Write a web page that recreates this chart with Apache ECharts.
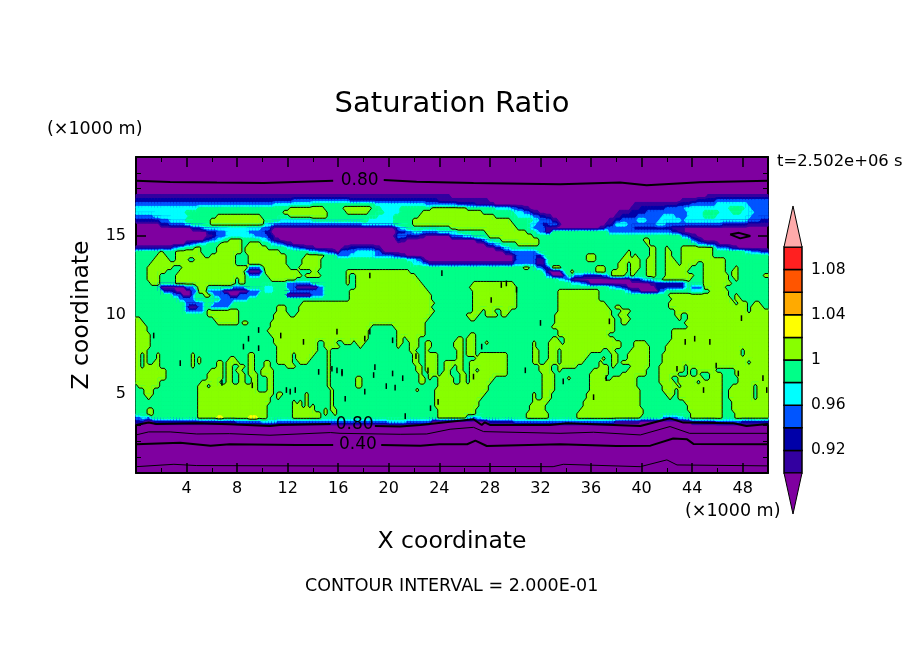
<!DOCTYPE html>
<html>
<head>
<meta charset="utf-8">
<style>html,body{margin:0;background:#fff}#main{width:904px;height:654px}</style>
<script src="https://cdn.jsdelivr.net/npm/echarts@6/dist/echarts.min.js"></script>
</head>
<body>
<div id="main"></div>
<script>
var FONT = '"DejaVu Sans"';

// colour classes, 0 is below 0.90, then one per 0.02 step, last is above 1.10
var levelColors = ['#7f00a0', '#3300a0', '#0000a8', '#0055ff', '#00ffff', '#00ff88', '#88ff00', '#ffff00', '#ffaa00', '#ff5500', '#ff2020', '#ffaaaa'];
var levelEdges = [0.90, 0.92, 0.94, 0.96, 0.98, 1.00, 1.02, 1.04, 1.06, 1.08, 1.10];
var colorbarTicks = [0.92, 0.96, 1, 1.04, 1.08];
var xStep = 0.25;
var xMax = 50;

// z, then "level-untilX" runs along that height
var satRows = [
[18, "0-50"],
[17.75, "0-50"],
[17.5, "1-25 0-45.2 1-50"],
[17.25, "2-12.5 3-17 2-24 1-28 0-43.2 1-44.5 2-46 3-50"],
[17, "3-11 4-14 5-19 4-23 3-25.5 2-27 1-28.5 0-39.3 1-42.8 2-44 3-46 4-48.5 3-50"],
[16.75, "4-5 5-12.2 6-15 5-16.4 6-18.6 5-19.5 4-21 5-23.3 6-26.2 5-28.5 4-29.6 3-30.1 2-30.7 1-31.2 0-39.1 1-40 2-42 3-43.5 4-47 5-48.2 4-48.7 3-50"],
[16.5, "4-4 5-11.7 6-15.1 5-16.7 6-18.4 5-19.6 4-21 5-22.6 6-27.5 5-29.9 4-30.7 3-31.1 2-31.5 1-31.9 0-38.2 1-39.1 2-40.4 3-43.7 4-44.8 5-46.2 4-47.2 5-48 4-49 3-50"],
[16.25, "3-1.5 4-4.2 5-6.5 6-9.95 5-12.2 6-15.1 5-19.2 4-20.5 5-22.5 6-28.5 5-30.2 4-31.5 3-32 2-32.5 1-33 0-37.8 1-38.5 2-39.6 3-41.7 4-42.7 3-43.6 4-44.9 5-46 4-48.7 3-50"],
[16, "2-1.9 3-2.7 4-3.9 5-6 6-10.1 5-11.5 4-14 5-18.5 4-20.5 5-22 6-29.6 5-31.3 4-32 3-33 1-33.5 0-37.4 1-37.9 2-38.4 3-39.7 4-40.3 3-41.3 4-43.2 3-43.5 4-48.3 3-49.4 2-50"],
[15.75, "0-1.8 2-2.7 3-3.8 4-4.5 5-5.9 6-10.1 4-10.8 3-18 4-20.3 5-21.8 6-30 5-31.2 4-31.7 3-32.2 2-32.7 3-33.3 1-33.6 0-37.2 1-37.6 2-38 4-39 3-41.2 4-42 3-46.5 2-48.5 1-50"],
[15.5, "0-4.5 2-5.1 3-5.5 4-10 3-10.6 1-11 0-20.3 1-20.6 3-21 4-21.5 5-24.8 6-30.25 5-31.2 4-31.5 3-32.5 1-33 0-36.7 1-37.1 3-39.3 2-42.5 1-43.3 0-50"],
[15.25, "0-5.6 2-6.4 3-7.2 4-9 3-10.1 2-10.7 0-20.75 2-21.5 3-22 4-22.6 3-24 4-25.4 5-27.75 6-31 5-31.7 4-32 3-32.4 1-32.8 5-37.3 3-42.3 2-43 1-43.4 0-50"],
[15, "0-5.7 1-6.1 2-6.5 3-7.2 4-9.5 3-10.5 2-11 0-20.3 1-20.6 3-21.4 2-22.5 1-23 0-24.85 2-25 3-25.9 4-26.6 5-27.9 6-31.3 5-43.2 3-43.6 2-44 1-44.4 0-50"],
[14.75, "0-5.4 2-5.9 3-6.5 4-7 5-7.3 6-8.4 5-9.8 4-10.3 3-10.6 2-11 1-11.5 0-20.6 2-21 1-21.5 0-26.8 2-27.3 3-27.7 4-28 5-28.8 6-31.8 5-40.2 6-40.7 5-43.8 3-44.2 2-44.6 1-45 0-50"],
[14.5, "0-4 2-4.5 3-5 4-5.6 5-6.7 6-8.5 5-8.8 6-9.9 5-10.7 4-11.2 3-11.6 2-12 1-12.4 0-27.6 2-28 3-28.5 4-28.9 5-30.1 6-31.8 5-40.3 6-40.6 5-44.5 3-45.2 2-45.8 1-46.2 0-50"],
[14.25, "1-3 3-3.5 4-4 5-4.7 6-5.1 5-6.5 6-8.5 5-8.6 6-10.3 5-11.9 4-12.4 3-13 2-13.5 1-14.1 0-16.5 1-17 2-19 1-19.3 0-28.4 2-28.8 3-29.2 4-29.6 5-40.7 6-41.1 5-41.85 6-42.25 5-43.2 6-45.7 5-46 3-46.8 2-47.2 1-47.6 0-50"],
[14, "5-1.9 6-2.2 5-3.2 6-5.2 5-6.3 6-8.5 5-8.6 6-11.5 5-13.7 4-14.5 3-15.1 2-15.6 1-15.9 0-16.14 3-17.5 4-19 3-19.4 1-19.7 0-29.2 2-29.6 3-31.7 4-32 5-38.8 6-39.1 5-40.6 6-41.1 5-41.85 6-42.4 5-43.2 6-45.7 5-48.2 4-48.6 3-49.4 2-50"],
[13.75, "5-1.6 6-2.3 5-3.2 6-5.5 5-5.9 6-7.8 5-8.8 6-11.8 5-13.4 6-14.8 5-15.8 3-17 4-18.8 3-20.5 2-21 1-21.4 0-29.9 2-30.2 3-31.7 2-32.2 4-32.5 5-35.7 6-36.4 5-38.55 6-39.1 5-39.3 6-39.7 5-40.6 6-41.2 5-41.85 6-42.5 5-43.2 6-45.7 5-50"],
[13.5, "5-1.4 6-2.7 5-3.1 6-4.2 5-4.6 6-7.8 5-8.8 6-11.9 5-13.2 6-14.7 5-21.4 4-22.1 3-22.7 1-23 0-29.9 2-30.2 3-31.7 1-32.4 4-32.7 5-35.65 6-36.3 5-38.3 6-39.1 5-39.2 6-39.8 5-40.5 6-41.25 5-42 6-42.65 5-43.2 6-46.6 5-50"],
[13.25, "5-1.2 6-2.8 5-3 6-7.8 5-8.8 6-11.9 5-13.1 6-14.7 5-22 4-22.6 3-23.2 1-29.9 3-31.7 1-32.4 4-32.7 5-38.2 6-39 5-39.2 6-39.8 5-40.5 6-41.25 5-42 6-42.8 5-43.2 6-44.5 5-45 6-46.6 5-50"],
[13, "5-0.85 6-2.8 5-3.6 6-9 3-9.95 5-10.2 6-12.2 5-12.9 6-14.6 5-30.65 6-31.2 5-31.7 3-32.2 2-32.6 3-33 6-33.7 5-36.4 6-37.2 5-38.2 6-38.9 5-39.2 6-39.8 5-40.5 6-41.25 5-41.85 6-43.9 5-45 6-46.7 5-47.3 6-47.7 5-50"],
[12.75, "5-0.8 6-2.3 5-3.35 6-8.6 3-8.9 0-9.9 3-10.1 6-13 5-14 6-14.4 5-16.7 6-21.7 5-32.2 4-32.4 2-32.7 0-33.7 3-34 5-34.3 6-34.6 5-36.3 6-37.2 5-37.6 6-38.8 5-39.2 6-39.6 5-40.3 6-41.2 5-41.8 6-43.6 5-44.8 6-46.7 5-47.1 6-47.7 5-50"],
[12.5, "5-0.8 6-2 5-3.2 6-8.6 5-8.9 3-9.9 5-10.3 6-13.1 5-13.5 6-14.7 5-16.7 6-16.8 5-17.3 6-22.1 5-32.5 3-33 0-33.8 3-34.2 5-34.6 3-35.5 2-37 3-37.4 5-37.6 6-38.7 5-39.1 6-39.5 5-40.3 6-41.2 5-41.85 6-44.1 5-44.8 6-46.9 5-47.2 6-47.7 5-49.7 6-50"],
[12.25, "5-1 6-1.9 5-3.1 6-7.95 5-8.1 6-8.6 5-10.7 6-12.6 5-16.7 6-16.8 5-17.3 6-22.5 5-33.5 4-34 3-34.3 1-34.6 0-39.1 2-39.8 3-40.2 4-41 5-41.7 6-44 5-44.8 6-47 5-47.3 6-47.7 5-50"],
[12, "5-1.1 6-1.9 5-3.1 6-7.95 5-8.1 6-8.7 5-12 3-13.8 5-16.7 6-16.8 5-17.3 6-22.7 5-26.7 6-30 5-34.3 4-35.2 3-35.7 2-36 0-40.7 1-41.2 2-43.3 4-43.6 5-44.9 6-47.1 5-50"],
[11.75, "5-1.8 3-2 0-4 3-4.7 5-4.9 6-5.6 5-7.6 3-8.7 5-10.2 4-10.9 5-12 3-12.6 0-14.3 3-14.9 5-16.8 6-16.85 5-17.3 6-23 5-26.5 6-30.1 5-37.5 4-38 3-38.4 2-38.8 0-41.2 2-43.3 4-43.6 5-44 3-44.9 5-45 6-46.75 5-50"],
[11.5, "5-2.2 2-3.2 0-4.3 3-5 6-5.7 3-7 0-9 3-9.8 5-10.2 4-10.9 5-12.2 3-15 5-16.8 6-23.1 5-26.6 6-30.1 5-33.4 6-36.7 5-38.7 4-39.2 2-39.9 0-41.5 3-41.9 5-44 4-44.9 5-45.4 6-46.9 5-50"],
[11.25, "5-3 3-3.6 0-4.3 3-4.7 5-5.4 6-5.8 5-6.1 3-7.3 0-8.2 3-9.7 5-12 0-13.8 3-14.8 5-16.8 6-23.3 5-26.7 6-30.2 5-33.3 6-36.7 5-42.2 6-47 5-47.4 6-47.6 5-50"],
[11, "5-3.4 3-4.7 5-6.6 3-9 5-16.8 6-23.5 5-26.7 6-30.2 5-33.3 6-36.7 5-42.3 6-47.1 5-47.4 6-48 5-50"],
[10.75, "5-3.8 3-5.3 5-6.1 3-7.7 5-13.1 6-23.7 5-26.7 6-30.1 5-33.3 6-37.2 5-42.1 6-47.3 5-47.6 6-48.3 5-48.8 6-49.5 5-50"],
[10.5, "5-3.8 3-4.2 0-4.9 3-5.4 5-5.9 3-7.4 5-11.1 6-12 5-13 6-23.5 5-26.6 6-30.1 5-33.3 6-37.4 5-37.9 6-38.3 5-42.1 6-48.3 5-48.6 6-49.6 5-50"],
[10.25, "5-3.9 3-5.4 5-5.7 6-8.2 5-11.1 6-11.9 5-13 6-23.6 5-26.7 6-27.3 5-27.75 6-28.5 5-28.9 6-29.6 5-33.4 6-37.75 5-38.3 6-39.1 5-42.65 6-48.4 5-48.6 6-50"],
[10, "5-5.7 6-8.2 5-11 6-12.2 5-12.7 6-23.4 5-26.2 6-27.2 5-27.6 6-28.7 5-29 6-29.3 5-33.1 6-37.75 5-38.2 6-39 5-42.6 6-43.2 5-43.7 6-50"],
[9.75, "6-0.4 5-6.1 6-8.2 5-10.9 6-23.2 5-26.4 6-27 5-33.1 6-37.8 5-38.4 6-39.1 5-42.8 6-43.1 5-43.7 6-50"],
[9.5, "6-0.7 5-6.4 6-8.1 5-8.5 6-8.9 5-10.7 6-22.9 5-33.1 6-37.9 5-38.5 6-38.9 5-43.4 6-50"],
[9.25, "6-0.85 5-10.6 6-18.6 5-20.5 6-22.9 5-33 6-37.9 5-43.7 6-50"],
[9, "6-1 5-10.5 6-18.4 5-20.6 6-23 5-33.4 6-37.9 5-42.5 6-50"],
[8.75, "6-1.05 5-10.7 6-18.4 5-20.7 6-22.9 5-26.5 6-26.8 5-33.4 6-37.4 5-42.4 6-50"],
[8.5, "6-1.05 5-10.8 6-18.5 5-20.7 6-21.2 5-21.5 6-22.5 5-25.4 6-25.8 5-26.2 6-26.9 5-33 6-33.3 5-34 6-38 5-42.4 6-50"],
[8.25, "6-1.05 5-11 6-14.4 5-15 6-16 5-16.5 6-17.2 5-17.45 6-18.1 5-20.7 6-21.1 5-21.55 6-22.34 5-22.87 6-23.26 5-25.24 6-25.85 5-26.2 6-26.9 5-27.7 6-27.9 5-31.3 6-31.65 5-32.75 6-33.7 5-33.8 6-38.3 5-39.35 6-40.5 5-42.1 6-50"],
[8, "6-1.05 5-11.05 6-14.4 5-15 6-16.1 5-17.6 6-18 5-20.75 6-21 5-21.6 6-22.34 5-22.87 6-23.26 5-25.24 6-25.9 5-26.2 6-26.9 5-31.3 6-31.7 5-32.75 6-33.55 5-33.7 6-38.3 5-39.35 6-40.7 5-42 6-50"],
[7.75, "6-0.9 5-11.1 6-14.3 5-15.1 6-15.5 5-21.7 6-22.1 5-22.87 6-23.2 5-25.3 6-25.85 5-26.2 6-26.85 5-31.35 6-31.8 5-32.7 6-33.4 5-33.7 6-37 5-37.5 6-38 5-39.2 6-40.7 5-41.85 6-47.9 5-48.2 6-50"],
[7.5, "6-0.3 5-0.7 6-0.9 5-1.6 6-1.8 5-4.4 6-4.7 5-8.9 6-9.3 5-11.1 6-12.45 5-12.6 6-14.1 5-15.1 6-15.5 5-21.76 6-22.26 5-22.87 6-23.9 5-25.4 6-25.77 5-26.2 6-26.85 5-27.2 6-29.46 5-31.4 6-31.8 5-32.7 6-33.3 5-33.7 6-36 5-37.6 6-38.1 5-39 6-40.7 5-41.7 6-47.9 5-48.2 6-50"],
[7.25, "6-0.3 5-0.7 6-0.85 5-1.6 6-1.85 5-4.4 6-4.75 5-4.85 6-5.2 5-7.3 6-8 5-8.9 6-9.3 5-11.15 6-12.5 5-12.7 6-13.8 5-15.1 6-15.5 5-21.9 6-22.34 5-22.87 6-23.9 5-25.4 6-25.85 5-27 6-29.46 5-31.3 6-31.8 5-32.6 6-33.3 5-33.7 6-35.7 5-36.8 6-37.1 5-37.6 6-38.1 5-38.9 6-40.7 5-41.7 6-48.3 5-48.5 6-50"],
[7, "6-0.3 5-0.7 6-0.85 5-1.5 6-1.85 5-4.4 6-4.75 5-4.85 6-5.2 5-6.4 6-6.9 5-7.25 6-8.2 5-9 6-9.3 5-10.1 6-10.75 5-11.2 6-12.5 5-13 6-13.7 5-15.1 6-15.5 5-22 6-22.5 5-22.95 6-23.85 5-24.5 6-26 5-26.3 6-29.5 5-31.4 6-31.9 5-32.5 6-33.3 5-33.7 6-35.4 5-36.6 6-37 5-37.6 6-38.1 5-38.5 6-40.7 5-41.6 6-48.4 5-48.6 6-50"],
[6.75, "6-0.4 5-0.7 6-1.9 5-4.4 6-4.7 5-6.3 6-7 5-7.2 6-7.6 5-8.1 6-8.6 5-9 6-9.3 5-10.1 6-10.75 5-12 6-12.7 5-15.1 6-15.5 5-22.1 6-22.6 5-23 6-23.8 5-24.4 6-25.25 5-25.4 6-26 5-26.3 6-29.5 5-31.9 6-33 5-33.3 6-35 5-36.6 6-37.3 5-37.6 6-38 5-39.1 6-40.6 5-41.5 6-43.3 5-43.6 6-50"],
[6.5, "6-2.3 5-6 6-6.9 5-7.2 6-7.6 5-8 6-8.5 5-9 6-9.4 5-10 6-10.8 5-15.1 6-15.5 5-22.2 6-22.6 5-23 6-23.8 5-24.3 6-25 5-25.5 6-26 5-26.3 6-26.8 5-27.1 6-29.5 5-31.95 6-33 5-33.3 6-33.7 5-36.2 6-37.4 5-38.8 6-40.5 5-41.3 6-43.3 5-43.7 6-44 5-44.35 6-45.9 5-47.4 6-50"],
[6.25, "6-2.4 5-5.7 6-6.8 5-7.2 6-7.65 5-8.1 6-8.6 5-9 6-9.55 5-9.95 6-10.9 5-15.1 6-15.5 5-22.3 6-22.7 5-23.05 6-23.8 5-24.2 6-24.85 5-25.6 6-26.1 5-26.4 6-29.4 5-32.1 6-33.15 5-36 6-37.3 5-38.3 6-40.4 5-41.3 6-43 5-43.7 6-44 5-44.35 6-44.75 5-45.36 6-46.34 5-47.5 6-50"],
[6, "6-2.4 5-5.55 6-6.8 5-7.25 6-7.6 5-8.1 6-8.6 5-9.15 6-9.7 5-10.3 6-10.9 5-15.1 6-15.5 5-17.45 6-17.85 5-22.4 6-22.8 5-23.05 6-23.5 5-24 6-25.24 5-25.65 6-26.1 5-26.4 6-28.4 5-32.2 6-33.15 5-34.1 6-34.3 5-36 6-37.1 5-37.65 6-39.75 5-41.3 6-42.5 5-42.9 6-44.9 5-45.36 6-46.34 5-47.6 6-50"],
[5.75, "6-2 5-5.05 6-6.7 5-7.05 6-7.6 5-8.25 6-8.6 5-9.15 6-9.7 5-10.35 6-10.95 5-15.15 6-15.5 5-17.45 6-17.85 5-22.5 6-22.8 5-24 6-25.24 5-25.65 6-26.1 5-26.4 6-28.15 5-32.2 6-33.15 5-35.95 6-39.75 5-41.45 6-42.55 5-42.9 6-44.35 5-44.6 6-46.34 5-47.6 6-50"],
[5.5, "5-0.1 6-1.8 5-4.95 6-5.65 5-5.85 6-9.7 5-10.35 6-10.95 5-15.2 6-15.5 5-17.5 6-17.8 5-23.9 6-27.9 5-32.2 6-33.15 5-35.95 6-39.75 5-41.7 6-42.8 5-43.2 6-46.34 5-47.1 6-48.85 5-49.1 6-50"],
[5.25, "5-0.6 6-1.5 5-4.95 6-9.7 5-10.3 6-10.95 5-15.3 6-15.6 5-22.1 6-22.35 5-23.66 6-27.9 5-32.2 6-33.1 5-35.8 6-39.85 5-41.7 6-42.6 5-43 6-46.34 5-47 6-48.85 5-49.1 6-50"],
[5, "5-0.7 6-1.4 5-4.95 6-10.9 5-11.1 6-11.65 5-12.85 6-13 5-13.4 6-13.6 5-15.3 6-15.6 5-23.7 6-27.7 5-31.4 6-31.65 5-32.2 6-33 5-35.65 6-39.9 5-41.85 6-42.6 5-43 6-46.34 5-47 6-48.85 5-49.2 6-50"],
[4.75, "5-0.85 6-1.25 5-4.95 6-10.7 5-11.1 6-11.4 5-12.85 6-13 5-13.4 6-13.7 5-15.3 6-15.6 5-23.6 6-27.4 5-31.35 6-31.7 5-32.05 6-32.8 5-35.6 6-39.9 5-42.1 6-42.5 5-43 6-46.34 5-47 6-48.85 5-49.2 6-50"],
[4.5, "5-4.95 6-10.6 5-12.45 6-12.7 5-12.85 6-13.1 5-13.4 6-13.65 5-15.35 6-15.7 5-23.6 6-27.2 5-31.3 6-31.8 5-32 6-32.6 5-35.5 6-39.95 5-43.3 6-46.34 5-47.1 6-48.85 5-49 6-50"],
[4.25, "5-4.95 6-10.5 5-12.5 6-13.1 5-13.4 6-13.7 5-13.9 6-14.1 5-15.4 6-15.7 5-23.7 6-27.1 5-31.2 6-32.45 5-35.3 6-40 5-43.55 6-46.34 5-47.2 6-48.85 5-49 6-50"],
[4, "5-1 6-1.3 5-4.95 6-10.4 5-12.45 6-14.2 5-14.9 6-15.1 5-15.5 6-16 5-23.8 6-27 5-31.1 6-32.35 5-35.1 6-40.1 5-43.7 6-46.34 5-47.2 6-50"],
[3.75, "5-1 6-1.3 5-4.95 6-10.3 5-12.3 6-14.6 5-14.8 6-15.1 5-15.75 6-16 5-23.8 6-26.9 5-31 6-32.6 5-34.9 6-40.2 5-43.8 6-46.4 5-47.4 6-50"],
[3.5, "3-0.3 4-0.8 3-1.2 5-4.95 6-6.5 7-6.8 6-9 7-9.6 6-10.3 5-12.3 6-14.7 5-23.8 6-26.2 4-26.6 3-27 4-27.3 5-31 6-32.6 5-34.9 6-40 5-41.7 3-43 4-43.4 5-43.8 6-46.4 5-47.4 6-49.9"],
[3.25, "2-0.6 0-1.4 2-8 3-10 4-11.2 3-20 4-21.5 3-23.3 0-28 2-30 3-38 1-40 0-44 2-46 3-48 2-50"],
[3, "0-50"]
];

// thick and thin contour lines, [x, z]
var line80TopA = [[0, 18.5], [2.7, 18.42], [6.4, 18.38], [10.1, 18.35], [15.6, 18.5]];
var line80TopB = [[19.6, 18.54], [22.2, 18.44], [26.7, 18.35], [33.55, 18.27], [38.3, 18.38], [40.4, 18.21], [44.6, 18.4], [50, 18.5]];
var line80Spot = [[47, 15.1], [47.7, 15.2], [48.6, 15], [47.8, 14.85], [47, 15.1]];
var line80LowA = [[0, 3.04], [1, 3.19], [1.6, 3.1], [4.8, 3.15], [7.4, 3.08], [10.6, 2.98], [11.4, 3.04], [15.4, 3.1]];
var line80LowB = [[18.9, 2.98], [20.9, 2.94], [22.5, 3.04], [24.85, 3.25], [26.7, 3.4], [27.35, 3.04], [27.6, 3.21], [28, 3.04], [32.75, 3.04], [34.1, 3.15], [39.9, 2.98], [42.25, 3.46], [43.3, 3.19], [47.3, 3.15], [48.3, 2.98], [50, 3.1]];
var line60 = [[0, 2.41], [1, 2.6], [2.7, 2.6], [4.8, 2.47], [7.4, 2.49], [10.6, 2.39], [15.4, 2.56], [16.14, 2.51], [20.9, 2.45], [23, 2.47], [24.85, 2.77], [26.7, 2.89], [27.5, 2.62], [33.55, 2.51], [36.2, 2.58], [39.9, 2.41], [42.25, 2.94], [43.8, 2.51], [50, 2.51]];
var line40A = [[0, 1.82], [3.5, 1.92], [5.9, 1.73], [7.4, 1.82], [12.7, 1.78], [15.6, 1.78]];
var line40B = [[19.4, 1.78], [22.5, 1.73], [24, 1.82], [26.2, 1.82], [26.85, 2.05], [27.75, 1.71], [33.55, 1.82], [38, 1.71], [40.7, 1.73], [42.5, 2.18], [43.6, 2.13], [44.1, 1.84], [50, 1.82]];
var line20 = [[0, 0.4], [3, 0.55], [4.8, 0.47], [33, 0.4], [33.8, 0.55], [39.9, 0.4], [42, 0.83], [42.8, 0.51], [50, 0.45]];
var contourLabels = [[17.7, 18.48, '0.80'], [17.3, 3.04, '0.80'], [17.55, 1.77, '0.40']];

// tiny closed 1.00 contours too small for the node table, [x, z]
var unitySpecks = [
[8.5, 8], [8.9, 8.5], [9.7, 9.05], [9.7, 7.9], [1.4, 8.7], [3.5, 6.95], [11.45, 8.7], [13.25, 8.3], [15.9, 8.95],
[14.45, 6.4], [15.9, 6.5], [16.3, 6.4], [15.5, 6.6], [16.55, 4.7], [9.2, 5.55], [6.8, 5.7], [12.2, 5.15], [12.6, 5.25], [11.9, 5.25],
[18.5, 8.95], [18.1, 8.5], [20.3, 8.4], [16.3, 6.3], [18.9, 6.7], [18.8, 6.2], [20.3, 6.3], [21.1, 6], [18.1, 5.15], [19.8, 5.5], [20.5, 5.4],
[22.15, 7.4], [23.1, 6.5], [23.3, 4.1], [21.3, 3.6], [26.7, 6.1], [27.35, 8], [23.9, 4.5], [30.8, 6.5], [32, 9.5],
[37.45, 9.6], [44.2, 8.5], [43.45, 8.3], [45.4, 8.3], [47.9, 9.8], [45.9, 6.8], [44.9, 5.25], [47.65, 6.3], [42.8, 6.6], [37.2, 6], [33.8, 5.8],
[36.2, 4.8], [49.9, 5.25], [49.6, 6], [18.5, 12.5], [28.9, 11.9], [29.3, 12], [30.1, 11.6], [28.1, 10.95], [24.2, 12.65]
];

function levelAt(runs, x) {
    for (var i = 0; i < runs.length; i++) {
        if (x < runs[i][1]) return runs[i][0];
    }
    return runs[runs.length - 1][0];
}

// node table: nodes[rowIndex][colIndex] = colour class
var nodes = satRows.map(function (row) {
    var runs = row[1].split(' ').map(function (r) {
        var p = r.split('-');
        return [+p[0], +p[1]];
    });
    var out = [];
    for (var c = 0; c * xStep <= xMax; c++) out.push(levelAt(runs, c * xStep));
    return out;
});
var cellData = [];
for (var r = 0; r < satRows.length - 1; r++) {
    for (var c = 0; c < nodes[0].length - 1; c++) cellData.push([c, r]);
}

function cellCorners(c, r) {
    return [
        { x: c * xStep, z: satRows[r][0], v: nodes[r][c] },
        { x: (c + 1) * xStep, z: satRows[r][0], v: nodes[r][c + 1] },
        { x: (c + 1) * xStep, z: satRows[r + 1][0], v: nodes[r + 1][c + 1] },
        { x: c * xStep, z: satRows[r + 1][0], v: nodes[r + 1][c] }
    ];
}

function crossing(a, b, t) {
    var f = (t - a.v) / (b.v - a.v);
    return [a.x + f * (b.x - a.x), a.z + f * (b.z - a.z)];
}

// part of one cell at or above threshold t
function clipCell(corners, t) {
    var pts = [];
    for (var i = 0; i < 4; i++) {
        var a = corners[i], b = corners[(i + 1) % 4];
        if (a.v >= t) pts.push([a.x, a.z]);
        if ((a.v >= t) !== (b.v >= t)) pts.push(crossing(a, b, t));
    }
    return pts;
}

function renderFill(params, api) {
    var corners = cellCorners(api.value(0), api.value(1));
    var vs = corners.map(function (p) { return p.v; });
    var lo = Math.min.apply(null, vs), hi = Math.max.apply(null, vs);
    var children = [];
    for (var k = 1; k <= hi; k++) {
        if (lo >= k + 1) continue;
        var pts = clipCell(corners, k - 0.5).map(function (p) { return api.coord(p); });
        if (pts.length > 2) {
            children.push({
                type: 'polygon', shape: { points: pts }, silent: true,
                style: { fill: levelColors[k], stroke: levelColors[k], lineWidth: 1 }
            });
        }
    }
    return { type: 'group', children: children };
}

// the 1.00 contour, between classes 5 and 6
function renderUnity(params, api) {
    var corners = cellCorners(api.value(0), api.value(1));
    var t = 5.5, hits = [];
    for (var i = 0; i < 4; i++) {
        var a = corners[i], b = corners[(i + 1) % 4];
        if ((a.v >= t) !== (b.v >= t)) hits.push(api.coord(crossing(a, b, t)));
    }
    var children = [];
    for (var h = 0; h + 1 < hits.length; h += 2) {
        children.push({
            type: 'line', silent: true,
            shape: { x1: hits[h][0], y1: hits[h][1], x2: hits[h + 1][0], y2: hits[h + 1][1] },
            style: { stroke: '#000', lineWidth: 1 }
        });
    }
    return { type: 'group', children: children };
}

function renderSpeck(params, api) {
    var a = api.coord([api.value(0), api.value(1) + 0.18]);
    var b = api.coord([api.value(0), api.value(1) - 0.18]);
    return {
        type: 'line', silent: true,
        shape: { x1: a[0], y1: a[1], x2: b[0], y2: b[1] },
        style: { stroke: '#000', lineWidth: 1.5 }
    };
}

function renderLabel(params, api) {
    var p = api.coord([api.value(0), api.value(1)]);
    return {
        type: 'text', silent: true, x: p[0], y: p[1],
        style: { text: contourLabels[params.dataIndex][2], fill: '#000', font: '17px ' + FONT, textAlign: 'center', textVerticalAlign: 'middle' }
    };
}

function renderBar(params, api) {
    var lo = api.value(0), hi = api.value(1), k = api.value(2);
    var a = api.coord([0, lo]), b = api.coord([1, hi]);
    return {
        type: 'rect', silent: true,
        shape: { x: a[0], y: b[1], width: b[0] - a[0], height: a[1] - b[1] },
        style: { fill: levelColors[k], stroke: '#000', lineWidth: 1.5 }
    };
}

function renderArrow(params, api) {
    var base = api.value(0), tip = api.value(1), k = api.value(2);
    return {
        type: 'polygon', silent: true,
        shape: { points: [api.coord([0, base]), api.coord([1, base]), api.coord([0.5, tip])] },
        style: { fill: levelColors[k], stroke: '#000', lineWidth: 1 }
    };
}

function contourLine(points, width) {
    return {
        type: 'line', data: points, showSymbol: false, silent: true, z: 6,
        lineStyle: { color: '#000', width: width }, animation: false
    };
}

function customMain(data, fn, z) {
    return {
        type: 'custom', xAxisIndex: 0, yAxisIndex: 0, data: data, renderItem: fn,
        coordinateSystem: 'cartesian2d', encode: { x: -1, y: -1 }, progressive: 0, animation: false, silent: true, z: z
    };
}

var barData = [];
for (var i = 0; i < levelEdges.length - 1; i++) barData.push([levelEdges[i], levelEdges[i + 1], i + 1]);

var axisEdge = { show: true, onZero: false, lineStyle: { color: '#000', width: 2 } };

function frameX(pos, showLabel) {
    return {
        type: 'value', position: pos, min: 0, max: 50, interval: 4, gridIndex: 0,
        axisLine: axisEdge,
        axisTick: { show: true, inside: true, length: 10, lineStyle: { color: '#000', width: 1.5 } },
        minorTick: { show: true, splitNumber: 2, length: 5, lineStyle: { color: '#000', width: 1 } },
        axisLabel: {
            show: showLabel, margin: 8, color: '#000', fontFamily: FONT, fontSize: 16,
            formatter: function (v) { return v === 0 || v === 50 ? '' : v; }
        },
        splitLine: { show: false }
    };
}
function frameZ(pos, showLabel) {
    return {
        type: 'value', position: pos, min: 0, max: 20, interval: 5, gridIndex: 0,
        axisLine: axisEdge,
        axisTick: { show: true, inside: true, length: 10, lineStyle: { color: '#000', width: 1.5 } },
        minorTick: { show: true, splitNumber: 5, length: 5, lineStyle: { color: '#000', width: 1 } },
        axisLabel: {
            show: showLabel, margin: 10, color: '#000', fontFamily: FONT, fontSize: 16,
            formatter: function (v) { return v === 0 || v === 20 ? '' : v; }
        },
        splitLine: { show: false }
    };
}

var xBottom = frameX('bottom', true);
xBottom.name = 'X coordinate';
xBottom.nameLocation = 'middle';
xBottom.nameGap = 57;
xBottom.nameTextStyle = { color: '#000', fontFamily: FONT, fontSize: 23.5 };
var zLeft = frameZ('left', true);
zLeft.name = 'Z coordinate';
zLeft.nameLocation = 'middle';
zLeft.nameGap = 42;
zLeft.nameRotate = 90;
zLeft.nameTextStyle = { color: '#000', fontFamily: FONT, fontSize: 23.5 };

var series = [
    customMain(cellData, renderFill, 2),
    customMain(cellData, renderUnity, 5),
    customMain(unitySpecks, renderSpeck, 5),
    contourLine(line80TopA, 2), contourLine(line80TopB, 2), contourLine(line80Spot, 2),
    contourLine(line80LowA, 2), contourLine(line80LowB, 2),
    contourLine(line60, 1), contourLine(line40A, 2), contourLine(line40B, 2), contourLine(line20, 1),
    customMain(contourLabels.map(function (l) { return [l[0], l[1]]; }), renderLabel, 7),
    {
        type: 'custom', xAxisIndex: 1, yAxisIndex: 1, data: barData, renderItem: renderBar,
        encode: { x: -1, y: -1 }, animation: false, silent: true, z: 3
    },
    {
        type: 'custom', xAxisIndex: 1, yAxisIndex: 1,
        data: [[levelEdges[0], 0.8637, 0], [levelEdges[levelEdges.length - 1], 1.1363, 11]],
        renderItem: renderArrow, encode: { x: -1, y: -1 }, animation: false, silent: true, z: 3
    }
];

var myChart = echarts.init(document.getElementById('main'), null, { renderer: 'canvas' });
myChart.setOption({
    animation: false,
    backgroundColor: '#fff',
    title: {
        text: 'Saturation Ratio', left: 'center', top: 85,
        textStyle: { color: '#000', fontFamily: FONT, fontSize: 29, fontWeight: 'normal' }
    },
    grid: [
        { left: 136, top: 157, width: 632, height: 316, show: true, backgroundColor: levelColors[0], borderWidth: 0 },
        { left: 784, top: 247, width: 18, height: 226 }
    ],
    xAxis: [
        xBottom,
        { type: 'value', gridIndex: 1, min: 0, max: 1, show: false },
        frameX('top', false)
    ],
    yAxis: [
        zLeft,
        {
            type: 'value', gridIndex: 1, min: 0.9, max: 1.1, interval: 0.02, position: 'right',
            axisLine: { show: false }, axisTick: { show: false }, splitLine: { show: false },
            axisLabel: {
                color: '#000', fontFamily: FONT, fontSize: 15.5, margin: 9,
                formatter: function (v) {
                    var hit = colorbarTicks.filter(function (t) { return Math.abs(t - v) < 1e-6; });
                    return hit.length ? String(hit[0]) : '';
                }
            }
        },
        frameZ('right', false)
    ],
    series: series,
    graphic: [
        { type: 'text', left: 47, top: 120, style: { text: '(\u00d71000 m)', fill: '#000', font: '17.5px ' + FONT } },
        { type: 'text', left: 685, top: 502, style: { text: '(\u00d71000 m)', fill: '#000', font: '17.5px ' + FONT } },
        { type: 'text', left: 777, top: 154, style: { text: 't=2.502e+06 s', fill: '#000', font: '16.4px ' + FONT } },
        { type: 'text', left: 305, top: 577, style: { text: 'CONTOUR INTERVAL = 2.000E-01', fill: '#000', font: '17.5px ' + FONT } }
    ]
});
</script>
</body>
</html>
